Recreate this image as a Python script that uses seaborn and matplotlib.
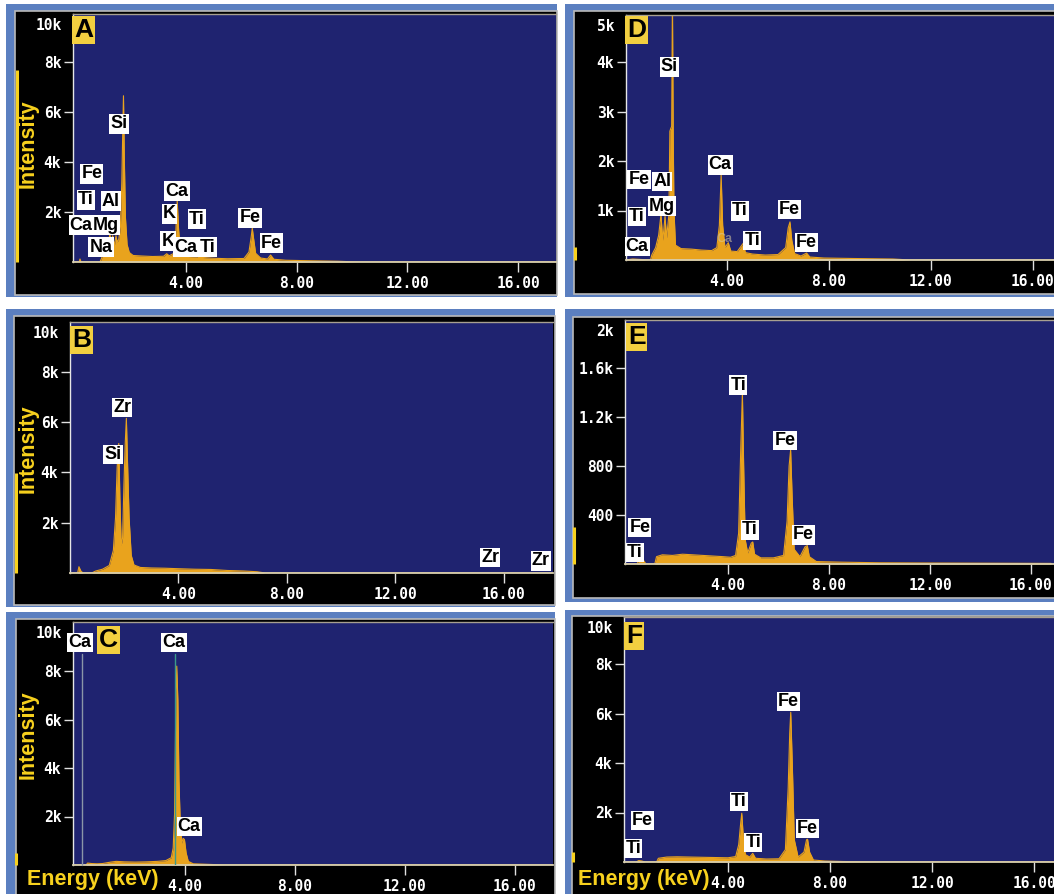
import pandas as pd
import seaborn as sns
import matplotlib.pyplot as plt
from matplotlib.patches import Rectangle
from matplotlib.transforms import blended_transform_factory

# ---------------- data ----------------
# A
a_kev = [0.00, 0.15, 0.18, 0.22, 0.90, 0.96, 1.04, 1.10, 1.20, 1.26, 1.30, 1.36, 1.42, 1.48, 1.52,
         1.58, 1.64, 1.69, 1.72, 1.75, 1.78, 1.82, 1.88, 1.96, 2.10, 2.40, 2.80, 3.20, 3.31, 3.40,
         3.58, 3.64, 3.69, 3.74, 3.80, 3.95, 4.01, 4.08, 4.40, 4.51, 4.60, 5.00, 5.50, 6.10, 6.28,
         6.36, 6.40, 6.44, 6.52, 6.70, 6.95, 7.06, 7.18, 7.60, 8.50, 9.50, 10.20, 17.40]
a_cts = [0, 0, 120, 0, 0, 150, 420, 380, 600, 1150, 700, 1050, 650, 1050, 800,
         900, 1400, 3200, 5000, 6650, 4200, 1800, 700, 380, 260, 240, 220, 230, 330, 250,
         350, 1200, 2450, 1300, 450, 260, 330, 220, 200, 300, 180, 150, 130, 140, 400,
         1000, 1350, 1000, 350, 160, 120, 280, 110, 70, 50, 30, 0, 0]
a_lab = ['Si', 'Fe', 'Ti', 'Al', 'Ca', 'Mg', 'Na', 'Ca', 'K', 'Ti', 'K', 'Ca', 'Ti', 'Fe', 'Fe']
a_lab_x = [1.59, 0.61, 0.40, 1.30, 0.22, 1.12, 0.94, 3.68, 3.40, 4.40, 3.36, 4.01, 4.80, 6.32, 7.08]
a_lab_y = [5520, 3520, 2480, 2440, 1480, 1480, 600, 2840, 1920, 1720, 840, 600, 600, 1760, 760]
a_yticks = [2000, 4000, 6000, 8000]
a_yticklabels = ['2k', '4k', '6k', '8k']
a_ytop = '10k'
a_cursor = 7700

# B
b_kev = [0.00, 0.28, 0.33, 0.40, 0.48, 0.80, 0.95, 1.20, 1.45, 1.60, 1.68, 1.74, 1.80, 1.84, 1.89,
         1.94, 1.99, 2.04, 2.08, 2.12, 2.18, 2.26, 2.36, 2.60, 3.00, 3.50, 4.00, 4.60, 5.20, 5.80,
         6.40, 6.90, 7.20, 17.90]
b_cts = [0, 0, 250, 80, 0, 0, 80, 150, 300, 900, 2200, 4200, 5150, 3000, 1100,
         1400, 3500, 5200, 6150, 4500, 2200, 700, 320, 220, 200, 190, 170, 150, 140, 100,
         80, 50, 0, 0]
b_lab = ['Zr', 'Si', 'Zr', 'Zr']
b_lab_x = [1.92, 1.59, 15.50, 17.38]
b_lab_y = [6570, 4700, 600, 480]
b_yticks = [2000, 4000, 6000, 8000]
b_yticklabels = ['2k', '4k', '6k', '8k']
b_ytop = '10k'
b_cursor = 3980

# C
c_kev = [0.00, 0.40, 0.46, 0.60, 0.80, 1.00, 1.30, 1.50, 1.80, 2.20, 2.60, 3.00, 3.30, 3.50, 3.57,
         3.62, 3.66, 3.70, 3.74, 3.78, 3.82, 3.88, 3.93, 3.98, 4.04, 4.12, 4.30, 5.00, 5.40, 17.40]
c_cts = [0, 0, 80, 60, 50, 60, 120, 150, 130, 120, 130, 150, 180, 300, 700,
         2100, 6000, 8200, 6800, 3500, 2000, 900, 1100, 1050, 500, 150, 50, 20, 0, 0]
c_lab = ['Ca', 'Ca', 'Ca']
c_lab_x = [0.18, 3.60, 4.15]
c_lab_y = [9170, 9170, 1600]
c_yticks = [2000, 4000, 6000, 8000]
c_yticklabels = ['2k', '4k', '6k', '8k']
c_ytop = '10k'
c_cursor = 500
c_lines_x = [0.25, 3.64]          # Ca L and Ca K marker lines

# D
d_kev = [0.00, 0.30, 1.00, 1.05, 1.20, 1.32, 1.41, 1.48, 1.52, 1.57, 1.63, 1.68, 1.72, 1.76, 1.79,
         1.83, 1.86, 1.89, 1.92, 1.98, 2.20, 2.60, 3.00, 3.40, 3.60, 3.70, 3.77, 3.83, 3.92, 4.05,
         4.15, 4.40, 4.64, 4.72, 5.00, 5.50, 6.00, 6.30, 6.40, 6.47, 6.54, 6.65, 6.90, 7.12, 7.25,
         7.80, 9.00, 10.50, 11.20, 17.00]
d_cts = [0, 20, 0, 100, 250, 500, 920, 400, 600, 880, 450, 700, 900, 2600, 2650,
         2700, 5300, 2600, 1000, 300, 230, 220, 200, 190, 250, 700, 1720, 700, 250, 350,
         180, 170, 340, 150, 120, 100, 110, 250, 650, 770, 400, 130, 80, 140, 60,
         40, 30, 20, 0, 0]
d_lab = ['Si', 'Ca', 'Fe', 'Al', 'Ti', 'Mg', 'Ca', 'Ti', 'Ti', 'Fe', 'Fe']
d_lab_x = [1.74, 3.73, 0.55, 1.46, 0.46, 1.44, 0.48, 4.51, 4.99, 6.45, 7.12]
d_lab_y = [3900, 1920, 1620, 1580, 880, 1090, 280, 990, 390, 1020, 350]
d_yticks = [1000, 2000, 3000, 4000]
d_yticklabels = ['1k', '2k', '3k', '4k']
d_ytop = '5k'
d_cursor = 260
d_ghost = ('Ca', 3.92, 420)

# E
e_kev = [0.00, 0.40, 0.50, 0.62, 0.75, 1.10, 1.17, 1.40, 1.80, 2.20, 2.60, 3.00, 3.40, 3.80, 4.10,
         4.30, 4.42, 4.50, 4.57, 4.62, 4.68, 4.78, 4.92, 4.98, 5.05, 5.30, 5.80, 6.20, 6.34, 6.42,
         6.48, 6.54, 6.62, 6.85, 7.05, 7.14, 7.22, 7.50, 8.50, 10.00, 12.00, 16.80]
e_cts = [0, 0, 45, 40, 0, 0, 60, 75, 70, 80, 75, 70, 65, 60, 55,
         70, 250, 900, 1400, 800, 200, 90, 170, 180, 80, 50, 50, 70, 350, 800,
         930, 550, 120, 60, 140, 150, 60, 20, 15, 10, 8, 5]
e_lab = ['Ti', 'Fe', 'Fe', 'Ti', 'Ti', 'Fe']
e_lab_x = [4.41, 6.26, 0.51, 0.32, 4.87, 6.98]
e_lab_y = [1461, 1007, 296, 95, 278, 237]
e_yticks = [400, 800, 1200, 1600]
e_yticklabels = ['400', '800', '1.2k', '1.6k']
e_ytop = '2k'
e_cursor = 300

# F
f_kev = [0.00, 0.40, 0.50, 0.62, 0.75, 1.20, 1.27, 1.60, 2.00, 2.50, 3.00, 3.50, 4.00, 4.30, 4.42,
         4.50, 4.54, 4.60, 4.68, 4.85, 4.97, 5.08, 5.50, 6.00, 6.25, 6.36, 6.42, 6.46, 6.52, 6.60,
         6.75, 6.98, 7.08, 7.12, 7.20, 7.35, 7.80, 8.50, 10.00, 16.90]
f_cts = [0, 0, 60, 40, 0, 0, 150, 200, 210, 200, 190, 180, 170, 220, 700,
         1600, 1970, 1000, 300, 200, 350, 150, 120, 130, 500, 3000, 5200, 6050, 4000, 900,
         200, 400, 900, 920, 400, 80, 40, 20, 0, 0]
f_lab = ['Fe', 'Ti', 'Ti', 'Fe', 'Fe', 'Ti']
f_lab_x = [6.37, 4.43, 4.99, 7.11, 0.65, 0.29]
f_lab_y = [6480, 2440, 780, 1360, 1660, 550]
f_yticks = [2000, 4000, 6000, 8000]
f_yticklabels = ['2k', '4k', '6k', '8k']
f_ytop = '10k'
f_cursor = 400

xticks = [4, 8, 12, 16]
xticklabels = ['4.00', '8.00', '12.00', '16.00']

# ---------------- styling / layout ----------------
W, H = 1054, 894
ORANGE = '#e9a31d'
NAVY = '#1f2370'
FRAME = '#5b7fc0'
YELLOW = '#f7d11e'
TAGBG = '#f2cf40'
MONO = 'DejaVu Sans Mono'

sns.set_style('ticks')
plt.rcParams['font.family'] = ['Liberation Sans', 'DejaVu Sans']

# pixel layout: frame, black inner, plot area (l, t, r, b); 0 keV px, px per keV,
# px per 1k counts, cursor bar x, panel tag offset
layout = {
    'A': dict(frame=(6, 4, 557, 297), inner=(15, 11, 557, 295), plot=(73, 14, 556, 262),
              x0=75, kx=27.7, ky=25.0, bar=17, tag=(1, 4)),
    'B': dict(frame=(6, 309, 555, 607), inner=(14, 316, 555, 605), plot=(70, 322, 553, 573),
              x0=70, kx=27.1, ky=25.15, bar=16, tag=(2, 6)),
    'C': dict(frame=(6, 612, 555, 900), inner=(16, 619, 555, 900), plot=(73, 622, 553, 865),
              x0=75, kx=27.5, ky=24.25, bar=16, tag=(26, 6)),
    'D': dict(frame=(565, 4, 1060, 297), inner=(574, 11, 1060, 294), plot=(626, 15, 1054, 260),
              x0=625, kx=25.5, ky=49.5, bar=575, tag=(1, 3)),
    'E': dict(frame=(565, 309, 1060, 602), inner=(573, 317, 1060, 598), plot=(625, 320, 1054, 564),
              x0=627, kx=25.25, ky=122.5, bar=574, tag=(3, 5)),
    'F': dict(frame=(565, 610, 1060, 900), inner=(572, 616, 1060, 900), plot=(624, 617, 1054, 862),
              x0=626, kx=25.5, ky=24.75, bar=573, tag=(2, 7)),
}

panels = [
    ('A', a_kev, a_cts, a_lab, a_lab_x, a_lab_y, a_yticks, a_yticklabels, a_ytop, a_cursor),
    ('B', b_kev, b_cts, b_lab, b_lab_x, b_lab_y, b_yticks, b_yticklabels, b_ytop, b_cursor),
    ('C', c_kev, c_cts, c_lab, c_lab_x, c_lab_y, c_yticks, c_yticklabels, c_ytop, c_cursor),
    ('D', d_kev, d_cts, d_lab, d_lab_x, d_lab_y, d_yticks, d_yticklabels, d_ytop, d_cursor),
    ('E', e_kev, e_cts, e_lab, e_lab_x, e_lab_y, e_yticks, e_yticklabels, e_ytop, e_cursor),
    ('F', f_kev, f_cts, f_lab, f_lab_x, f_lab_y, f_yticks, f_yticklabels, f_ytop, f_cursor),
]

fig = plt.figure(figsize=(W / 100, H / 100), dpi=100)
fig.patch.set_facecolor('white')


def box(x0, y0, x1, y1, **kw):
    fig.add_artist(Rectangle((x0 / W, 1 - y1 / H), (x1 - x0) / W, (y1 - y0) / H,
                             transform=fig.transFigure, **kw))


axes = {}
for name, kev, cts, labs, lx, ly, yt, ytl, ytop, cur in panels:
    L = layout[name]
    box(*L['frame'], facecolor=FRAME, edgecolor='none', zorder=-3)
    box(*L['inner'], facecolor='black', edgecolor='#b9b9b9', lw=1.2, zorder=-2)
    l, t, r, b = L['plot']
    ax = fig.add_axes([l / W, 1 - b / H, (r - l) / W, (b - t) / H])
    axes[name] = ax
    ax.set_facecolor(NAVY)

    df = pd.DataFrame({'keV': kev, 'counts': cts})
    ax.fill_between(df['keV'], df['counts'], color=ORANGE, lw=0, zorder=2)
    sns.lineplot(data=df, x='keV', y='counts', ax=ax, color=ORANGE, lw=0.8,
                 estimator=None, sort=False, zorder=2)
    ax.set_xlim((l - L['x0']) / L['kx'], (r - L['x0']) / L['kx'])
    ax.set_ylim(0, (b - t) / L['ky'] * 1000)
    ax.set_xlabel('')
    ax.set_ylabel('')

    ax.spines['right'].set_visible(False)
    ax.spines['left'].set_color('#e6e6e6')
    ax.spines['left'].set_linewidth(1)
    ax.spines['top'].set_color('#a8a090')
    ax.spines['top'].set_linewidth(1)
    ax.spines['bottom'].set_color('#d9cfae')
    ax.spines['bottom'].set_linewidth(1.3)

    ax.set_xticks(xticks)
    ax.set_xticklabels(xticklabels, fontfamily=MONO, fontweight='bold', fontsize=10.5, color='white')
    ax.set_yticks(yt)
    ax.set_yticklabels(ytl, fontfamily=MONO, fontweight='bold', fontsize=10.5, color='white')
    ax.tick_params(axis='x', direction='out', length=7.2, width=1, color='#e0e0e0', pad=3.2)
    ax.tick_params(axis='y', direction='out', length=6.5, width=1, color='#e0e0e0', pad=2.0)
    ax.annotate(ytop, xy=(0, 1), xycoords='axes fraction', xytext=(-11, -11.5),
                textcoords='offset pixels', ha='right', va='center', fontfamily=MONO,
                fontweight='bold', fontsize=10.5, color='white')

    for s, x, y in zip(labs, lx, ly):
        ax.text(x, y, s, ha='center', va='center', fontsize=13, fontweight='bold',
                color='black', zorder=6, clip_on=False,
                bbox=dict(boxstyle='square,pad=0.06', fc='white', ec='none'))

    dx, dy = L['tag']
    ax.annotate(name, xy=(0, 1), xycoords='axes fraction', xytext=(dx, -dy),
                textcoords='offset pixels', ha='left', va='top', fontsize=19,
                fontweight='bold', color='black', zorder=7,
                bbox=dict(boxstyle='square,pad=0.07', fc=TAGBG, ec='none'))

    xa = (L['bar'] - l) / (r - l)
    ax.plot([xa, xa], [0, cur], transform=blended_transform_factory(ax.transAxes, ax.transData),
            color=YELLOW, lw=2.2, clip_on=False, solid_capstyle='butt', zorder=5)

# marker lines in C
axC = axes['C']
axC.plot([c_lines_x[0], c_lines_x[0]], [0, 8700], color='#8a96a8', lw=1, zorder=3, clip_on=False)
axC.plot([c_lines_x[1], c_lines_x[1]], [0, 8700], color='#3a9a8a', lw=1, zorder=3)

# faint label in D
axes['D'].text(d_ghost[1], d_ghost[2], d_ghost[0], ha='center', va='center', fontsize=9,
               fontweight='bold', color='#d8c9a0', alpha=0.55, zorder=6)

# axis titles
for ypx in [144, 449, 735]:
    fig.text(28 / W, 1 - ypx / H, 'Intensity', rotation=90, ha='center', va='center',
             fontsize=15.5, fontweight='bold', color=YELLOW)
for xpx in [27, 578]:
    fig.text(xpx / W, 1 - 880 / H, 'Energy (keV)', ha='left', va='center',
             fontsize=15.5, fontweight='bold', color=YELLOW)

fig.savefig('out.png', dpi=100, facecolor='white')
